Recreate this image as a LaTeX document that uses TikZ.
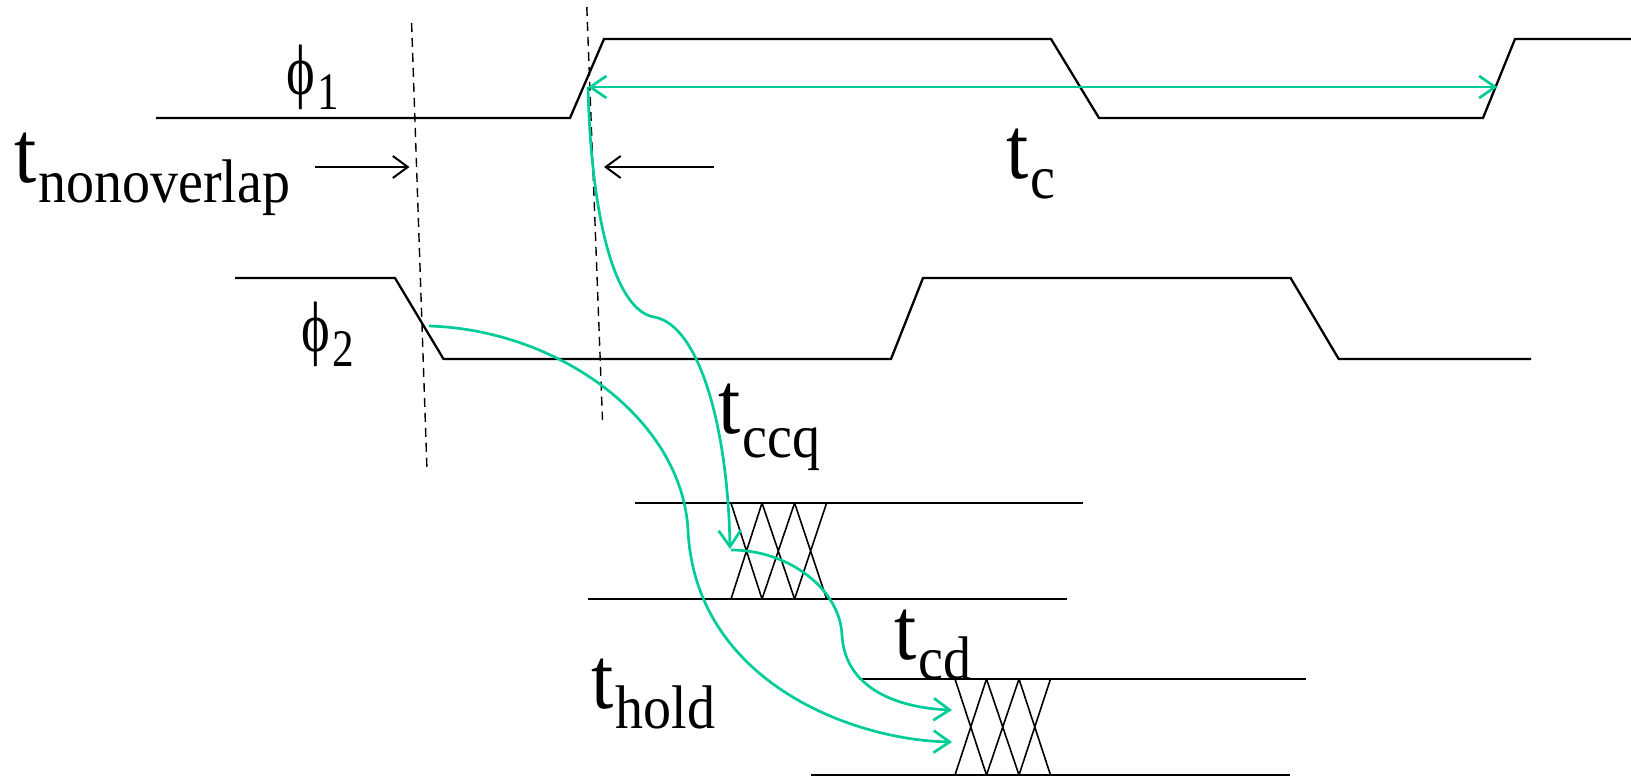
\documentclass[tikz,border=0pt]{standalone}
\usepackage{graphicx}
\usepackage{fontspec}
\setmainfont{Liberation Serif}
\usetikzlibrary{arrows.meta}
\definecolor{tgreen}{RGB}{0,204,153}
\newcommand{\tlab}[2][19pt]{\scalebox{1}[1.1]{\fontsize{80}{82}\selectfont t\kern2pt\raisebox{-#1}{\fontsize{56}{58}\selectfont #2}}}
\newcommand{\philab}[1]{\scalebox{0.88}[1.15]{\fontsize{62}{62}\selectfont\raisebox{0.2em}{ϕ}}\kern3pt\scalebox{0.9}[1.1]{\fontsize{48}{50}\selectfont #1}}
\begin{document}
\begin{tikzpicture}[x=1pt,y=-1pt,
  sig/.style={line width=2.3pt, line join=miter},
  vdash/.style={line width=1.4pt, dash pattern=on 9pt off 6pt},
  garrow/.style={tgreen, line width=2.7pt, -{Straight Barb[length=16pt,width=22pt]}},
  barrow/.style={black, line width=2pt, -{Straight Barb[length=15pt,width=22pt]}},
  lab/.style={inner sep=0pt, anchor=base west}]
\useasboundingbox (0,0) rectangle (1631,777);
% clock signals
\draw[sig] (156,118) -- (570,118) -- (604,39) -- (1051,39) -- (1099,118) -- (1483,118) -- (1515,39) -- (1631,39);
\draw[sig] (235,278) -- (395,278) -- (443.5,359) -- (891,359) -- (923,278) -- (1290.6,278) -- (1338.7,359) -- (1531,359);
% dashed markers
\coordinate (d1a) at (411.6,23); \coordinate (d1b) at (427,470);
\coordinate (d2a) at (586.8,7); \coordinate (d2b) at (602.5,420);
\draw[vdash] (d1a) -- (d1b);
\draw[vdash] (d2a) -- (d2b);
% data buses
\draw[sig] (635,503) -- (1082.5,503);
\draw[sig] (587.6,599) -- (1066.5,599);
\draw[line width=1.6pt] (731,503) -- (762,599) (762,503) -- (731,599)
  (762,503) -- (794.6,599) (794.6,503) -- (762,599)
  (794.6,503) -- (826.6,599) (826.6,503) -- (794.6,599);
\draw[sig] (859,679) -- (1306,679);
\draw[sig] (811,775) -- (1289.5,775);
\draw[line width=1.6pt] (955,679) -- (986.5,775) (986.5,679) -- (955,775)
  (986.5,679) -- (1019,775) (1019,679) -- (986.5,775)
  (1019,679) -- (1050.5,775) (1050.5,679) -- (1019,775);
% labels
\node[lab] (phi1) at (286,109) {\philab{1}};
\node[lab] (phi2) at (301,366) {\philab{2}};
\node[lab] (tnon) at (14,182) {\tlab{nonoverlap}};
\node[lab] (tc) at (1006,178) {\tlab{c}};
\node[lab] (tccq) at (718,433) {\tlab[22pt]{ccq}};
\node[lab] (tcd) at (894,659) {\tlab{cd}};
\node[lab] (thold) at (591,708) {\tlab{hold}};
% nonoverlap arrows
\coordinate (na1) at (315,167); \coordinate (nb1) at (409.5,167);
\coordinate (na2) at (714,167); \coordinate (nb2) at (604,167);
\draw[barrow] (na1) -- (nb1);
\draw[barrow] (na2) -- (nb2);
% green timing arrows
\coordinate (tcL) at (588,87); \coordinate (tcR) at (1497.5,87);
\draw[tgreen, line width=2.7pt, {Straight Barb[length=16pt,width=22pt]}-{Straight Barb[length=16pt,width=22pt]}] (tcL) -- (tcR);
\coordinate (ccqEnd) at (730,549);
\coordinate (cdStart) at (731,550);
\coordinate (cdEnd) at (952,710);
\coordinate (hStart) at (429,326);
\coordinate (hEnd) at (952,742);
\draw[garrow] (tcL) .. controls (591,215) and (614,310) .. (654,317)
  .. controls (700,325) and (728,430) .. (ccqEnd);
\draw[garrow] (cdStart) .. controls (790,550) and (840,590) .. (842,635)
  .. controls (845,690) and (900,708) .. (cdEnd);
\draw[garrow] (hStart) .. controls (560,330) and (682,420) .. (688,530)
  .. controls (695,680) and (850,740) .. (hEnd);
\end{tikzpicture}
\end{document}
